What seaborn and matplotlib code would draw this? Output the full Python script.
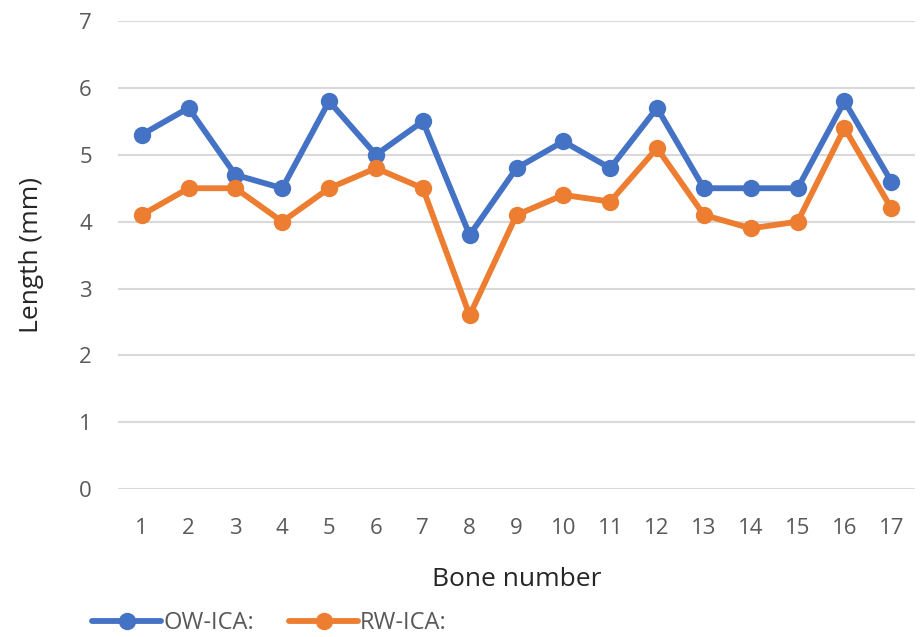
import pandas as pd
import numpy as np
import matplotlib
matplotlib.use("Agg")
import matplotlib.pyplot as plt
import seaborn as sns

bones = list(range(1, 18))
ow_ica = [5.3, 5.7, 4.7, 4.5, 5.8, 5.0, 5.5, 3.8, 4.8, 5.2, 4.8, 5.7, 4.5, 4.5, 4.5, 5.8, 4.6]
rw_ica = [4.1, 4.5, 4.5, 4.0, 4.5, 4.8, 4.5, 2.6, 4.1, 4.4, 4.3, 5.1, 4.1, 3.9, 4.0, 5.4, 4.2]
series_names = ["OW-ICA:", "RW-ICA:"]
colors = ["#4472C4", "#ED7D31"]

df = pd.DataFrame({
    "Bone number": bones * 2,
    "Length (mm)": ow_ica + rw_ica,
    "series": [series_names[0]] * len(bones) + [series_names[1]] * len(bones),
})

sns.set_style("white")
plt.rcParams["font.family"] = ["Open Sans", "DejaVu Sans"]

fig = plt.figure(figsize=(9.24, 6.37), dpi=100)
ax = fig.add_axes([0.128, 0.232, 0.862, 0.735])

sns.lineplot(data=df, x="Bone number", y="Length (mm)", hue="series",
             palette=colors, marker="o", markersize=12.5, markeredgewidth=0,
             linewidth=4.2, ax=ax, legend=True)

ax.set_xlim(0.5, 17.5)
ax.set_ylim(0, 7)
ax.set_yticks(range(0, 8))
ax.set_xticks(bones)
ax.grid(axis="y", color="#d9d9d9", linewidth=1.5)
ax.set_axisbelow(True)
for s in ax.spines.values():
    s.set_visible(False)
ax.tick_params(axis="both", length=0, labelsize=16, labelcolor="#595959")
ax.tick_params(axis="y", pad=19)
ax.tick_params(axis="x", pad=21)
ax.set_xlabel("Bone number", fontsize=19, labelpad=20)
ax.set_ylabel("Length (mm)", fontsize=19, labelpad=25)

handles, labels = ax.get_legend_handles_labels()
ax.get_legend().remove()
fig.legend(handles, labels, loc="center left", bbox_to_anchor=(0.1, 0.022),
           ncol=2, frameon=False, fontsize=17, handlelength=2.9,
           handletextpad=0.1, columnspacing=1.5, borderpad=0, borderaxespad=0,
           labelcolor="#595959")

fig.savefig("out.png", dpi=100)
